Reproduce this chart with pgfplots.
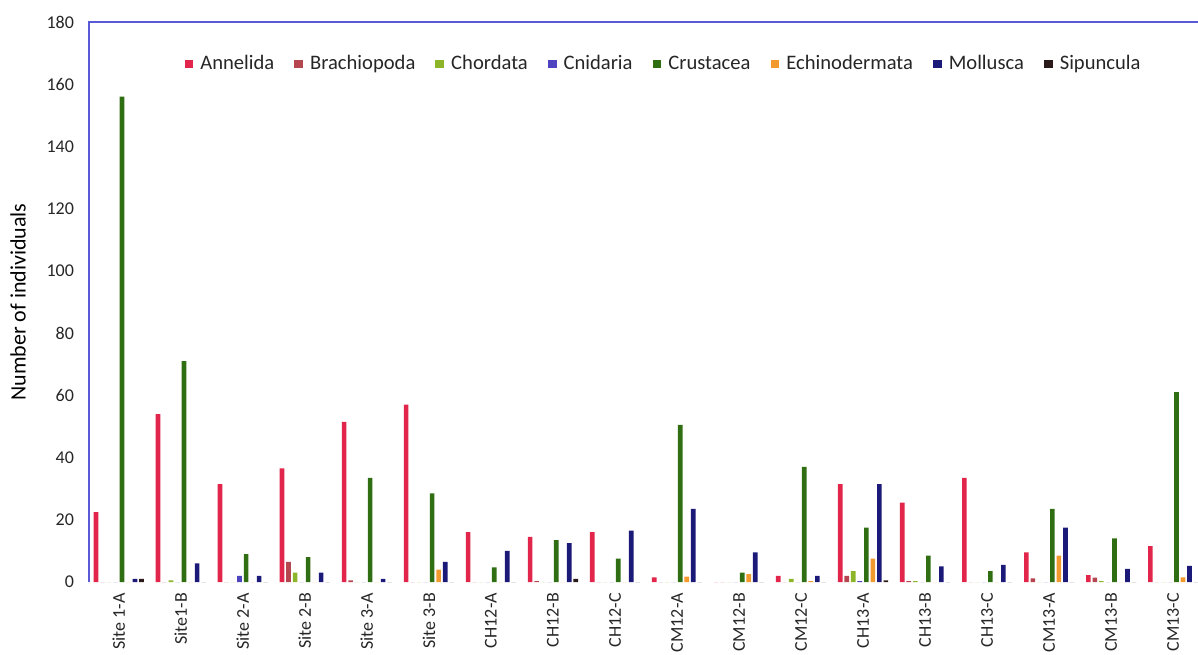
\documentclass[border=0pt]{standalone}
\usepackage{pgfplots}
\pgfplotsset{compat=1.18}
\usepackage{pgfplotstable}
\usepackage{fontspec}
\setmainfont{Carlito}
\definecolor{cAnn}{HTML}{E2264B}
\definecolor{cBra}{HTML}{B5464F}
\definecolor{cCho}{HTML}{8DB52A}
\definecolor{cCni}{HTML}{4F44C0}
\definecolor{cCru}{HTML}{2F6E12}
\definecolor{cEch}{HTML}{F29A2E}
\definecolor{cMol}{HTML}{1C1A78}
\definecolor{cSip}{HTML}{2A1A1A}
\definecolor{axblue}{HTML}{5A5AD8}
\pgfplotstableread{
x  Ann  Bra  Cho  Cni  Cru  Ech  Mol  Sip
0  22.5 0    0    0    156  0    1    1
1  54   0    0.5  0    71   0    6    0
2  31.5 0    0    2    9    0    2    0
3  36.5 6.5  3    0    8    0    3    0
4  51.5 0.5  0    0    33.5 0    1    0
5  57   0    0    0    28.5 4    6.5  0
6  16   0    0    0    4.7  0    10   0
7  14.5 0.3  0    0    13.5 0    12.5 1
8  16   0    0    0    7.5  0    16.5 0
9  1.5  0    0    0    50.5 1.7  23.5 0
10 0    0    0    0    3    2.5  9.5  0
11 2    0    1    0    37   0.3  2    0
12 31.5 2    3.5  0.3  17.5 7.5  31.5 0.5
13 25.5 0.3  0.3  0    8.5  0    5    0
14 33.5 0    0    0    3.5  0    5.5  0
15 9.5  1.2  0    0    23.5 8.5  17.5 0
16 2.2  1.4  0.3  0    14   0    4.2  0
17 11.5 0    0    0    61   1.5  5.2  0
}\data
\pgfplotsset{
  mybar/.style={ybar, bar width=0.075, draw=none, fill=#1,
    legend image code/.code={\fill[#1] (0pt,-2.2pt) rectangle (4.4pt,2.2pt);}},
}
\begin{document}
\begin{tikzpicture}
\begin{axis}[
  name=ax,
  scale only axis, width=554.5pt, height=280pt,
  xmin=-0.48, xmax=17.4, ymin=0, ymax=180,
  axis line style={draw=none},
  ytick={0,20,...,180},
  xtick={0,...,17},
  xticklabels={Site 1-A,Site1-B,Site 2-A,Site 2-B,Site 3-A,Site 3-B,CH12-A,CH12-B,CH12-C,CM12-A,CM12-B,CM12-C,CH13-A,CH13-B,CH13-C,CM13-A,CM13-B,CM13-C},
  major tick length=0pt,
  /pgf/number format/assume math mode=true,
  tick label style={font=\fontsize{9}{10}\selectfont, text=black!85},
  yticklabel style={xshift=-4pt},
  xticklabel style={rotate=90, anchor=east},
  xticklabel shift=2pt,
  ylabel={Number of individuals},
  ylabel style={font=\fontsize{11}{12}\selectfont, at={(axis description cs:-0.064,0.5)}, anchor=center},
  legend columns=8,
  legend style={at={(axis description cs:0.519,0.925)}, anchor=center, draw=none, fill=none,
    font=\fontsize{10.3}{12}\selectfont, text=black!85,
    /tikz/every odd column/.append style={column sep=1.5pt},
    /tikz/every even column/.append style={column sep=8pt}},
]
\addplot[mybar=cAnn, bar shift=-0.3675] table[x=x,y=Ann]{\data};
\addlegendentry{Annelida}
\addplot[mybar=cBra, bar shift=-0.2625] table[x=x,y=Bra]{\data};
\addlegendentry{Brachiopoda}
\addplot[mybar=cCho, bar shift=-0.1575] table[x=x,y=Cho]{\data};
\addlegendentry{Chordata}
\addplot[mybar=cCni, bar shift=-0.0525] table[x=x,y=Cni]{\data};
\addlegendentry{Cnidaria}
\addplot[mybar=cCru, bar shift=0.0525] table[x=x,y=Cru]{\data};
\addlegendentry{Crustacea}
\addplot[mybar=cEch, bar shift=0.1575] table[x=x,y=Ech]{\data};
\addlegendentry{Echinodermata}
\addplot[mybar=cMol, bar shift=0.2625] table[x=x,y=Mol]{\data};
\addlegendentry{Mollusca}
\addplot[mybar=cSip, bar shift=0.3675] table[x=x,y=Sip]{\data};
\addlegendentry{Sipuncula}
\end{axis}
\draw[axblue, line width=0.6pt] (ax.south west) -- (ax.north west) -- (ax.north east);
\pgfresetboundingbox
\path[use as bounding box] (-44.5pt,-36pt) rectangle (554.5pt,291pt);
\end{tikzpicture}
\end{document}
